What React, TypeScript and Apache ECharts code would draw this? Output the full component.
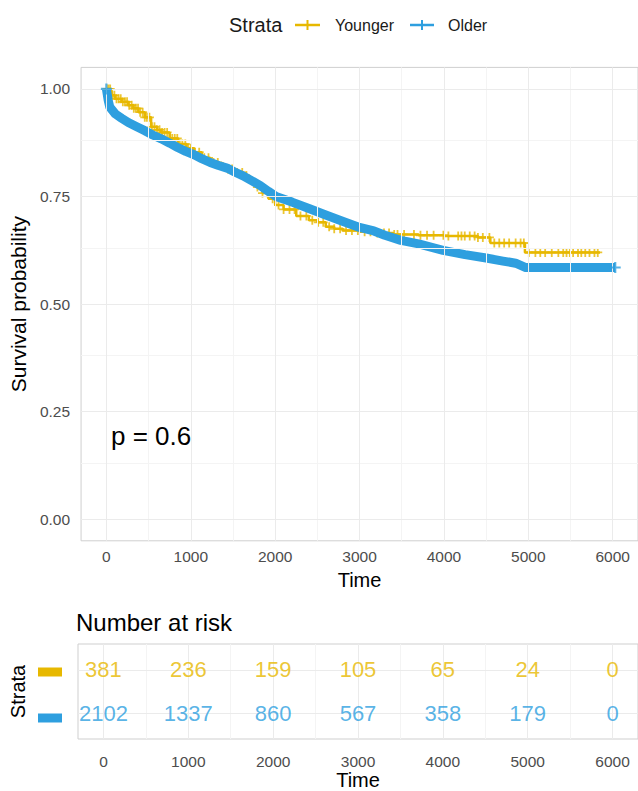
import React, { useEffect, useRef } from "react";
import * as echarts from "echarts";

// ---- data ----
const youngerTime = [0, 60, 100, 180, 260, 320, 380, 455, 530, 600, 650, 750, 850, 950, 1040, 1130, 1230, 1330, 1430, 1520, 1620, 1700, 1780, 1850, 1920, 2000, 2100, 2250, 2400, 2500, 2600, 2700, 2800, 3000, 3200, 3400, 3700, 4000, 4400, 4550, 4960, 5850];
const youngerSurv = [1.0, 0.985, 0.977, 0.97, 0.962, 0.955, 0.946, 0.934, 0.912, 0.905, 0.899, 0.885, 0.872, 0.862, 0.853, 0.84, 0.829, 0.82, 0.814, 0.806, 0.798, 0.787, 0.772, 0.758, 0.745, 0.73, 0.72, 0.705, 0.695, 0.69, 0.68, 0.675, 0.671, 0.668, 0.665, 0.662, 0.66, 0.658, 0.655, 0.642, 0.62, 0.62];

const olderTime = [0, 20, 40, 105, 180, 260, 360, 455, 550, 650, 750, 844, 940, 1040, 1130, 1230, 1330, 1430, 1520, 1620, 1720, 1820, 1920, 2010, 2200, 2400, 2600, 2790, 3000, 3170, 3300, 3490, 3700, 3990, 4250, 4500, 4700, 4850, 4970, 6030];
const olderSurv = [1.0, 0.975, 0.958, 0.942, 0.932, 0.922, 0.912, 0.903, 0.893, 0.884, 0.874, 0.864, 0.855, 0.847, 0.838, 0.829, 0.822, 0.816, 0.807, 0.798, 0.787, 0.776, 0.762, 0.75, 0.737, 0.722, 0.707, 0.693, 0.678, 0.67, 0.66, 0.648, 0.64, 0.625, 0.615, 0.607, 0.6, 0.595, 0.585, 0.585];

const youngerCensor = [5, 25, 45, 70, 95, 120, 145, 170, 195, 220, 245, 270, 300, 325, 350, 375, 400, 430, 455, 480, 510, 540, 570, 600, 630, 660, 690, 720, 750, 780, 810, 840, 870, 900, 935, 970, 1000, 1050, 1100, 1160, 1210, 1270, 1320, 1380, 1440, 1490, 1550, 1610, 1660, 1720, 1790, 1850, 1910, 1970, 2040, 2100, 2170, 2230, 2300, 2370, 2440, 2510, 2570, 2640, 2700, 2770, 2840, 2910, 2980, 3060, 3130, 3210, 3290, 3350, 3411, 3450, 3528, 3645, 3722, 3800, 3878, 3994, 4053, 4169, 4208, 4247, 4306, 4364, 4403, 4461, 4539, 4597, 4656, 4714, 4773, 4850, 4909, 4947, 5006, 5084, 5142, 5200, 5278, 5356, 5414, 5453, 5492, 5531, 5589, 5628, 5675, 5725, 5784, 5823];
const olderCensor = [0, 6030];

const xTicks = [0, 1000, 2000, 3000, 4000, 5000, 6000];
const xMinor = [500, 1500, 2500, 3500, 4500, 5500];
const yTicks = [0, 0.25, 0.5, 0.75, 1];
const yMinor = [0.125, 0.375, 0.625, 0.875];

const riskTimes = [0, 1000, 2000, 3000, 4000, 5000, 6000];
const riskYounger = [381, 236, 159, 105, 65, 24, 0];
const riskOlder = [2102, 1337, 860, 567, 358, 179, 0];

const strataNames = ["Younger", "Older"];
const pValueText = "p = 0.6";

// ---- styles ----
const GOLD = "#E7B800";
const BLUE = "#2E9FDF";
const FONT = "'Liberation Sans', Arial, Helvetica, sans-serif";
const CROSS = "path://M4 0h2v4h4v2h-4v4h-2v-4h-4v-2h4z";
const MAJOR = "#EBEBEB";
const MINOR = "#F4F4F4";
const BORDER = "#CFCFCF";

function survAt(times: number[], surv: number[], t: number) {
  let v = surv[0];
  for (let i = 0; i < times.length; i++) {
    if (times[i] <= t) v = surv[i];
    else break;
  }
  return v;
}

function gridLines(xi: number, yi: number, yMajor: number[], yMin: number[]) {
  return {
    type: "line",
    xAxisIndex: xi,
    yAxisIndex: yi,
    data: [],
    silent: true,
    z: 0,
    markLine: {
      silent: true,
      symbol: "none",
      animation: false,
      label: { show: false },
      emphasis: { disabled: true },
      data: [
        ...xMinor.map((v) => ({ xAxis: v, lineStyle: { color: MINOR, width: 1, type: "solid" } })),
        ...yMin.map((v) => ({ yAxis: v, lineStyle: { color: MINOR, width: 1, type: "solid" } })),
        ...xTicks.map((v) => ({ xAxis: v, lineStyle: { color: MAJOR, width: 1, type: "solid" } })),
        ...yMajor.map((v) => ({ yAxis: v, lineStyle: { color: MAJOR, width: 1, type: "solid" } })),
      ],
    },
  };
}

export default function App() {
  const ref = useRef<HTMLDivElement>(null);
  useEffect(() => {
    document.body.style.margin = "0";
    if (!ref.current) return;
    const chart = echarts.init(ref.current, null, { renderer: "svg" });
    const gridL = 74.7;
    const gridW = 567.6;
    const xAxisBase = (gi: number, ticks: boolean, margin: number, gap: number) => ({
      gridIndex: gi,
      type: "value",
      min: -300,
      max: 6300,
      axisLine: { show: false },
      splitLine: { show: false },
      axisTick: { show: ticks, customValues: xTicks, length: 4, lineStyle: { color: "#333333", width: 1 } },
      axisLabel: {
        show: true,
        customValues: xTicks,
        color: "#4D4D4D",
        fontSize: 15.5,
        fontFamily: FONT,
        margin,
        formatter: (v: number) => String(v),
      },
      name: "Time",
      nameLocation: "middle",
      nameGap: gap,
      nameTextStyle: { color: "#000", fontSize: 20, fontFamily: FONT },
    });
    const option: any = {
      animation: false,
      textStyle: { fontFamily: FONT },
      grid: [
        { left: gridL, top: 67.4, width: gridW, height: 473.4, show: true, borderColor: BORDER, borderWidth: 1 },
        { left: gridL, top: 644, width: gridW, height: 102, show: true, borderColor: BORDER, borderWidth: 1 },
      ],
      xAxis: [xAxisBase(0, true, 8, 27), xAxisBase(1, false, 14, 31)],
      yAxis: [
        {
          gridIndex: 0,
          type: "value",
          min: -0.05,
          max: 1.05,
          axisLine: { show: false },
          splitLine: { show: false },
          axisTick: { show: true, customValues: yTicks, length: 4, lineStyle: { color: "#333333", width: 1 } },
          axisLabel: {
            show: true,
            customValues: yTicks,
            color: "#4D4D4D",
            fontSize: 15.5,
            fontFamily: FONT,
            margin: 11,
            formatter: (v: number) => v.toFixed(2),
          },
          name: "Survival probability",
          nameLocation: "middle",
          nameRotate: 90,
          nameGap: 50,
          nameTextStyle: { color: "#000", fontSize: 21, fontFamily: FONT },
        },
        {
          gridIndex: 1,
          type: "value",
          min: 0.4,
          max: 2.6,
          inverse: true,
          axisLine: { show: false },
          splitLine: { show: false },
          axisTick: { show: false },
          axisLabel: { show: false },
          name: "Strata",
          nameLocation: "middle",
          nameRotate: 90,
          nameGap: 50,
          nameTextStyle: { color: "#000", fontSize: 20, fontFamily: FONT },
        },
      ],
      series: [
        gridLines(0, 0, yTicks, yMinor),
        {
          type: "line",
          name: strataNames[0],
          xAxisIndex: 0,
          yAxisIndex: 0,
          step: "end",
          symbol: "none",
          data: youngerTime.map((t, i) => [t, youngerSurv[i]]),
          lineStyle: { color: GOLD, width: 2.5 },
          z: 2,
        },
        {
          type: "scatter",
          xAxisIndex: 0,
          yAxisIndex: 0,
          symbol: CROSS,
          symbolSize: 9,
          itemStyle: { color: GOLD },
          data: youngerCensor.map((t) => [t, survAt(youngerTime, youngerSurv, t)]),
          z: 3,
        },
        {
          type: "line",
          name: strataNames[1],
          xAxisIndex: 0,
          yAxisIndex: 0,
          symbol: "none",
          data: olderTime.map((t, i) => [t, olderSurv[i]]),
          lineStyle: { color: BLUE, width: 9, join: "round" },
          z: 4,
        },
        {
          type: "scatter",
          xAxisIndex: 0,
          yAxisIndex: 0,
          symbol: CROSS,
          symbolSize: 11,
          itemStyle: { color: BLUE },
          data: olderCensor.map((t) => [t, survAt(olderTime, olderSurv, t)]),
          z: 5,
        },
        gridLines(1, 1, [1, 2], []),
        {
          type: "scatter",
          xAxisIndex: 1,
          yAxisIndex: 1,
          symbolSize: 0,
          data: riskTimes.map((t, i) => [t, 1, riskYounger[i]]),
          label: {
            show: true,
            position: "inside",
            formatter: (p: any) => String(p.data[2]),
            color: GOLD,
            fontSize: 22,
            fontFamily: FONT,
          },
          z: 5,
        },
        {
          type: "scatter",
          xAxisIndex: 1,
          yAxisIndex: 1,
          symbolSize: 0,
          data: riskTimes.map((t, i) => [t, 2, riskOlder[i]]),
          label: {
            show: true,
            position: "inside",
            formatter: (p: any) => String(p.data[2]),
            color: BLUE,
            fontSize: 22,
            fontFamily: FONT,
          },
          z: 5,
        },
      ],
      graphic: [
        { type: "text", z: 100, x: 229, y: 25, style: { text: "Strata", fontSize: 20, fontFamily: FONT, fill: "#1a1a1a", verticalAlign: "middle" } },
        { type: "line", z: 100, shape: { x1: 295, y1: 25, x2: 320, y2: 25 }, style: { stroke: GOLD, lineWidth: 2.5 } },
        { type: "line", z: 100, shape: { x1: 307.5, y1: 20, x2: 307.5, y2: 30 }, style: { stroke: GOLD, lineWidth: 2 } },
        { type: "text", z: 100, x: 335, y: 25, style: { text: strataNames[0], fontSize: 16, fontFamily: FONT, fill: "#1a1a1a", verticalAlign: "middle" } },
        { type: "line", z: 100, shape: { x1: 410, y1: 25, x2: 434, y2: 25 }, style: { stroke: BLUE, lineWidth: 2.5 } },
        { type: "line", z: 100, shape: { x1: 422, y1: 20, x2: 422, y2: 30 }, style: { stroke: BLUE, lineWidth: 2 } },
        { type: "text", z: 100, x: 448, y: 25, style: { text: strataNames[1], fontSize: 16, fontFamily: FONT, fill: "#1a1a1a", verticalAlign: "middle" } },
        { type: "text", z: 100, x: 111, y: 436, style: { text: pValueText, fontSize: 26, fontFamily: FONT, fill: "#000", verticalAlign: "middle" } },
        { type: "text", z: 100, x: 76, y: 622, style: { text: "Number at risk", fontSize: 24, fontFamily: FONT, fill: "#000", verticalAlign: "middle" } },
        { type: "rect", z: 100, shape: { x: 38, y: 667.5, width: 24, height: 9 }, style: { fill: GOLD } },
        { type: "rect", z: 100, shape: { x: 38, y: 713.5, width: 24, height: 9 }, style: { fill: BLUE } },
      ],
    };
    chart.setOption(option);
    return () => chart.dispose();
  }, []);
  return <div ref={ref} style={{ width: 638, height: 791 }} />;
}
